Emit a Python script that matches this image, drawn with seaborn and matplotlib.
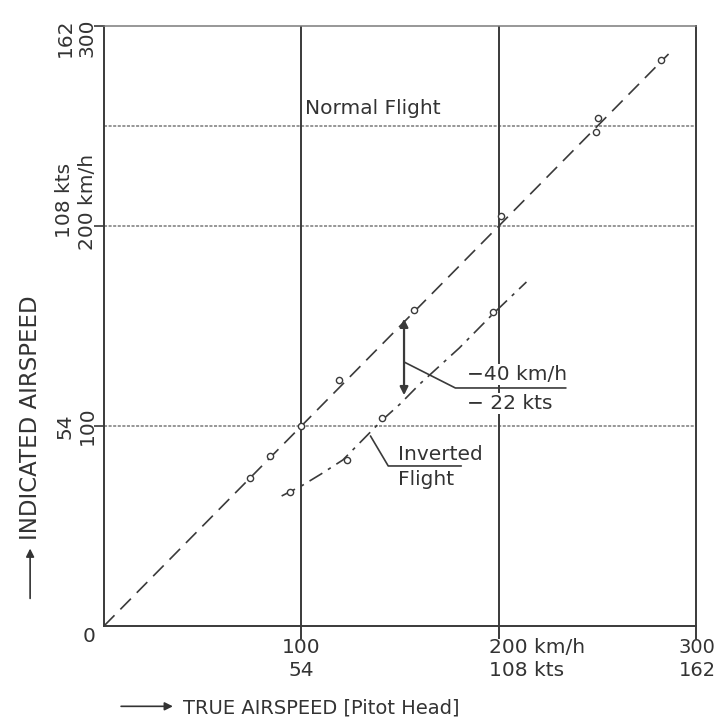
import matplotlib
matplotlib.use("Agg")
import matplotlib.pyplot as plt
import pandas as pd
import seaborn as sns

# measured points, normal flight (true vs indicated, km/h)
normal_tas = [74, 84, 100, 119, 157, 201, 250, 249, 282]
normal_ias = [74, 85, 100, 123, 158, 205, 254, 247, 283]
# calibration line for normal flight
normal_line_tas = [0, 286]
normal_line_ias = [0, 286]

# measured points, inverted flight
inv_tas = [94, 123, 141, 197]
inv_ias = [67, 83, 104, 157]
# faired curve, inverted flight
inv_curve_tas = [90, 100, 110, 121, 130, 141, 150, 160, 170, 180, 197, 214]
inv_curve_ias = [65, 70, 76, 83, 92, 103, 111, 121, 130, 139, 156, 172]

x_ticks = [100, 200, 300]
x_tick_kmh = ["100", "200 km/h", "300"]
x_tick_kts = ["54", "108 kts", "162"]
y_ticks = [100, 200, 300]
y_tick_kmh = ["100", "200 km/h", "300"]
y_tick_kts = ["54", "108 kts", "162"]

sns.set_style("white")
plt.rcParams["font.family"] = ["DejaVu Sans"]

ink = "#3a3a3a"
fig = plt.figure(figsize=(7.17, 7.2), dpi=100)
ax = fig.add_axes([0.145, 0.1306, 0.826, 0.8333])

normal_df = pd.DataFrame({"tas": normal_tas, "ias": normal_ias})
inv_df = pd.DataFrame({"tas": inv_tas, "ias": inv_ias})
line_df = pd.DataFrame({"tas": normal_line_tas, "ias": normal_line_ias})
curve_df = pd.DataFrame({"tas": inv_curve_tas, "ias": inv_curve_ias})

# grid
for yv in [100, 200, 250]:
    ax.axhline(yv, color="#7a7a7a", lw=1.1, ls=(0, (2, 1)), zorder=1)
for xv in [100, 200]:
    ax.axvline(xv, color=ink, lw=1.4, zorder=1)

sns.lineplot(data=line_df, x="tas", y="ias", ax=ax, color=ink, lw=1.2,
             ls=(0, (9, 5)), zorder=3)
sns.lineplot(data=curve_df, x="tas", y="ias", ax=ax, color=ink, lw=1.2,
             ls=(0, (9, 4, 2, 4)), zorder=3)
sns.scatterplot(data=normal_df, x="tas", y="ias", ax=ax, marker="o", s=20,
                facecolor="white", edgecolor=ink, linewidth=1.0, zorder=4)
sns.scatterplot(data=inv_df, x="tas", y="ias", ax=ax, marker="o", s=20,
                facecolor="white", edgecolor=ink, linewidth=1.0, zorder=4)

ax.set_xlim(0, 300)
ax.set_ylim(0, 300)
ax.set_xlabel("")
ax.set_ylabel("")
ax.set_xticks(x_ticks)
ax.set_yticks(y_ticks)
ax.set_xticklabels([])
ax.set_yticklabels([])
ax.tick_params(axis="x", direction="out", length=9, width=1.4, color=ink, bottom=True)
ax.tick_params(axis="y", direction="out", length=7, width=1.2, color=ink, left=True)
for side in ["left", "bottom", "right"]:
    ax.spines[side].set_color(ink)
    ax.spines[side].set_linewidth(1.4)
ax.spines["top"].set_color("#7a7a7a")
ax.spines["top"].set_linewidth(1.1)
ax.spines["top"].set_linestyle((0, (2, 1)))

fs = 14.5
tc = "#333333"
# x tick labels (two rows: km/h and kts)
trans_x = ax.get_xaxis_transform()
ax.text(-0.026, -0.002, "0", transform=ax.transAxes, ha="center", va="top", fontsize=fs, color=tc)
for xv, a, b in zip(x_ticks, x_tick_kmh, x_tick_kts):
    ha = "left" if "km" in a else "center"
    xx = xv - 5 if "km" in a else xv
    size = fs
    if xv == 300:
        xx = 300.5
        size = 14
    ax.text(xx, -0.02, a, transform=trans_x, ha=ha, va="top", fontsize=size, color=tc)
    ax.text(xx, -0.058, b, transform=trans_x, ha=ha, va="top", fontsize=size, color=tc)

# y tick labels, rotated
trans_y = ax.get_yaxis_transform()
for yv, a, b in zip(y_ticks, y_tick_kmh, y_tick_kts):
    va = "bottom" if "km" in a else "center"
    yy = yv - 12 if "km" in a else yv
    if yv == 300:
        yy = yv - 6
    ax.text(-0.012, yy, a, transform=trans_y, rotation=90, ha="right", va=va, fontsize=fs, color=tc)
    ax.text(-0.05, yy + (6 if "km" in a else 0), b, transform=trans_y, rotation=90,
            ha="right", va=va, fontsize=fs, color=tc)

# axis titles with arrows
fig.text(0.255, 0.017, "TRUE AIRSPEED [Pitot Head]", ha="left", va="center", fontsize=14, color=tc)
fig.patches.append(matplotlib.patches.FancyArrowPatch(
    (0.165, 0.019), (0.245, 0.019), transform=fig.transFigure, arrowstyle="-|>",
    mutation_scale=12, color=tc, lw=1.2))
fig.text(0.042, 0.25, "INDICATED AIRSPEED", rotation=90, ha="center", va="bottom", fontsize=16.5, color=tc)
fig.patches.append(matplotlib.patches.FancyArrowPatch(
    (0.042, 0.165), (0.042, 0.242), transform=fig.transFigure, arrowstyle="-|>",
    mutation_scale=12, color=tc, lw=1.2))

# annotations
ax.text(102, 254, "Normal Flight", fontsize=fs, color=tc, ha="left", va="bottom")

ax.annotate("", xy=(152, 114), xytext=(152, 155),
            arrowprops=dict(arrowstyle="<|-|>", color=ink, lw=1.6, mutation_scale=12), zorder=5)
ax.plot([152, 178, 234], [132, 119, 119], color=ink, lw=1.2, zorder=5)
ax.text(184, 121, "\u221240 km/h", fontsize=fs, color=tc, ha="left", va="bottom",
        bbox=dict(facecolor="white", edgecolor="none", pad=0.5), zorder=6)
ax.text(184, 116, "\u2212 22 kts", fontsize=fs, color=tc, ha="left", va="top",
        bbox=dict(facecolor="white", edgecolor="none", pad=0.5), zorder=6)

ax.plot([135, 144, 181], [95, 80, 80], color=ink, lw=1.2, zorder=5)
ax.text(149, 81, "Inverted", fontsize=fs, color=tc, ha="left", va="bottom", zorder=6)
ax.text(149, 78, "Flight", fontsize=fs, color=tc, ha="left", va="top", zorder=6)

fig.savefig("out.png", dpi=100, facecolor="white")
